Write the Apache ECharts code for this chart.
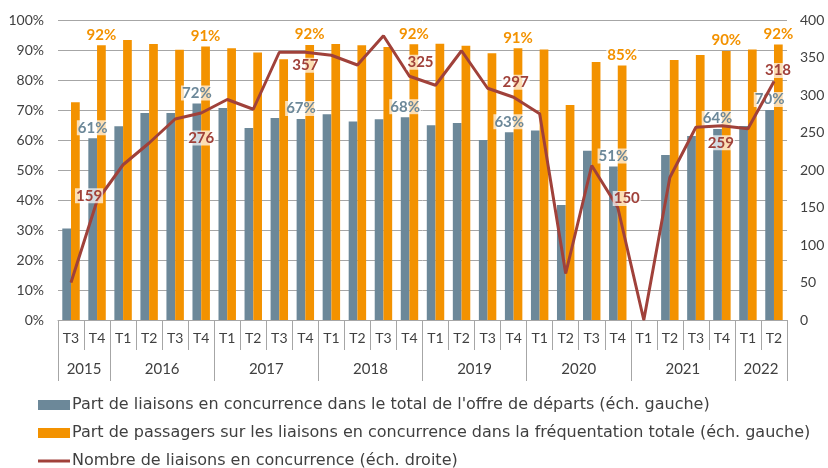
<!DOCTYPE html>
<html>
<head>
<meta charset="utf-8">
<script src="https://cdn.jsdelivr.net/npm/echarts@6/dist/echarts.min.js"></script>
<style>
html,body{margin:0;padding:0;background:#fff;}
#c{width:828px;height:468px;}
</style>
</head>
<body>
<div id="c"></div>
<script>
// ---- data ----
const quarters = ['T3','T4','T1','T2','T3','T4','T1','T2','T3','T4','T1','T2','T3','T4','T1','T2','T3','T4','T1','T2','T3','T4','T1','T2','T3','T4','T1','T2'];
const years = ['2015','2016','2017','2018','2019','2020','2021','2022'];
const yearSpans = [2,4,4,4,4,4,4,2];
const partOffre = [30.5,60.6,64.6,69,69,72.2,70.7,64,67.3,67,68.6,66.2,66.9,67.6,64.9,65.7,60,62.6,63.2,38.3,56.4,51.2,null,55,61.3,63.7,64.7,70];
const partPassagers = [72.6,91.6,93.3,92,90.1,91.2,90.6,89.2,86.9,91.7,92,91.6,91,91.9,92.1,91.4,88.9,90.6,90.2,71.7,86,84.8,null,86.7,88.3,89.7,90.2,91.8];
const nbLiaisons = [50,159,207,236,268,276,294,281,357,357,353,340,379,325,313,359,309,297,275,62,206,150,0,190,257,259,255,318];
const labelledIdx = [1,5,9,13,17,21,25,27];
const seriesNames = [
  "Part de liaisons en concurrence dans le total de l'offre de départs (éch. gauche)",
  "Part de passagers sur les liaisons en concurrence dans la fréquentation totale (éch. gauche)",
  "Nombre de liaisons en concurrence (éch. droite)"
];

// ---- styling / layout ----
const C_BLUE = '#6C8899', C_ORANGE = '#F39200', C_RED = '#A0413A';
const FONT = 'Lato';
const lineLabelOffsets = {1:[-8,-5],5:[0,25],9:[0,13],13:[11,-14],17:[2,-15],21:[9,-9],25:[-1,17],27:[4,-11]};
const labelBox = {fontFamily:FONT,fontWeight:'bold',fontSize:15,backgroundColor:'rgba(255,255,255,0.7)',padding:[0,1]};

// year boundaries / centres on a 0..N value scale
const boundaries=[0]; const centres=[]; const centreLabel={};
yearSpans.forEach((s,i)=>{const b=boundaries[boundaries.length-1]; boundaries.push(b+s); const c=b+s/2; centres.push(c); centreLabel[c]=years[i];});

function barData(arr,color){
  return arr.map((v,i)=> labelledIdx.includes(i) && v!=null ? {value:v,label:Object.assign({show:true,position:'top',distance:3,color:color,formatter:p=>Math.round(p.value)+'%'},labelBox)} : v);
}
const lineData = nbLiaisons.map((v,i)=> labelledIdx.includes(i) ? {value:v,label:Object.assign({show:true,position:'inside',offset:lineLabelOffsets[i],color:C_RED,formatter:p=>String(p.value)},labelBox)} : v);

const chart = echarts.init(document.getElementById('c'), null, {renderer:'canvas'});
chart.setOption({
  animation:false,
  textStyle:{fontFamily:FONT},
  grid:{left:58,right:41,top:20,bottom:148,containLabel:false},
  legend:{
    orient:'vertical',left:38,top:397,height:120,padding:0,itemGap:12,itemWidth:32,itemHeight:10,itemGap:12,
    textStyle:{fontFamily:'DejaVu Sans',fontSize:16,color:'#404040',lineHeight:16,padding:[0,0,0,-3]},
    data:[
      {name:seriesNames[0],icon:'rect'},
      {name:seriesNames[1],icon:'rect'},
      {name:seriesNames[2],icon:'path://M0,0 L32,0 L32,3 L0,3 Z'}
    ]
  },
  xAxis:[
    {type:'category',data:quarters,position:'bottom',
     axisLine:{lineStyle:{color:'#A6A6A6',width:1}},
     axisTick:{show:true,interval:0,length:30,lineStyle:{color:'#A6A6A6'}},
     axisLabel:{interval:0,margin:11,fontSize:14,color:'#404040',fontFamily:FONT}},
    {type:'value',min:0,max:quarters.length,position:'bottom',
     axisLine:{show:false},splitLine:{show:false},
     axisTick:{show:true,customValues:boundaries,length:61,lineStyle:{color:'#A6A6A6'}},
     axisLabel:{customValues:centres,margin:42,fontSize:15,color:'#404040',fontFamily:FONT,formatter:v=>centreLabel[v]||''}}
  ],
  yAxis:[
    {type:'value',min:0,max:100,interval:10,
     axisLabel:{formatter:'{value}%',fontSize:14,color:'#404040',margin:14,fontFamily:FONT},
     axisLine:{show:false},axisTick:{show:false},
     splitLine:{lineStyle:{color:'#A6A6A6',width:1}}},
    {type:'value',min:0,max:400,interval:50,position:'right',
     axisLabel:{fontSize:14,color:'#404040',margin:13,fontFamily:FONT},
     axisLine:{show:false},axisTick:{show:false},splitLine:{show:false}}
  ],
  series:[
    {name:seriesNames[0],type:'bar',xAxisIndex:0,yAxisIndex:0,data:barData(partOffre,C_BLUE),
     itemStyle:{color:C_BLUE},barGap:'0%',barCategoryGap:'33%'},
    {name:seriesNames[1],type:'bar',xAxisIndex:0,yAxisIndex:0,data:barData(partPassagers,C_ORANGE),
     itemStyle:{color:C_ORANGE},barGap:'0%',barCategoryGap:'33%'},
    {name:seriesNames[2],type:'line',xAxisIndex:0,yAxisIndex:1,data:lineData,
     symbol:'circle',symbolSize:1,showSymbol:true,
     lineStyle:{color:C_RED,width:3},itemStyle:{color:C_RED},z:5}
  ]
});
</script>
</body>
</html>
